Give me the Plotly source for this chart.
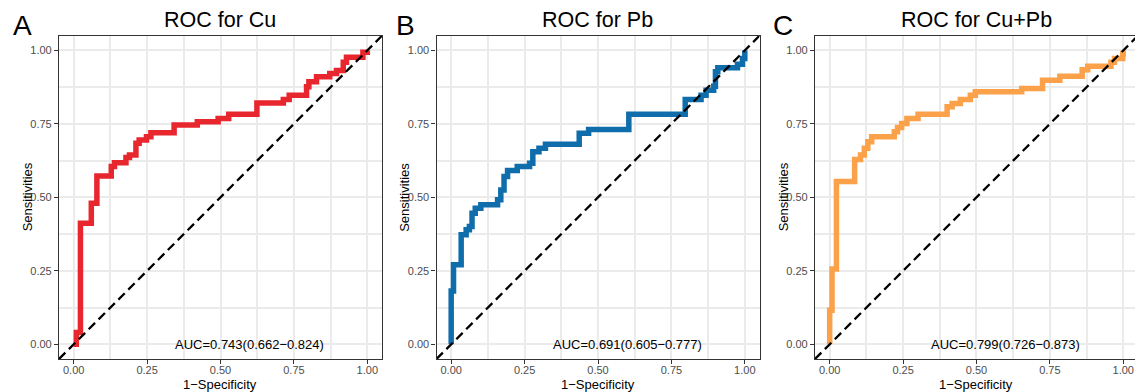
import plotly.graph_objects as go

# ---- data (step points of ROC curves: 1-specificity, sensitivity) ----
cu_fpr = [0, 0.009, 0.023, 0.060, 0.079, 0.128, 0.139, 0.178, 0.190, 0.212, 0.223, 0.248, 0.263,
          0.342, 0.421, 0.492, 0.528, 0.624, 0.714, 0.734, 0.793, 0.801, 0.827, 0.872, 0.895,
          0.918, 0.929, 0.985, 1.0]
cu_tpr = [0, 0.040, 0.412, 0.480, 0.573, 0.605, 0.618, 0.636, 0.644, 0.684, 0.695, 0.706, 0.720,
          0.746, 0.757, 0.768, 0.783, 0.821, 0.833, 0.847, 0.876, 0.893, 0.910, 0.921, 0.932,
          0.960, 0.977, 0.994, 1.0]

pb_fpr = [0, 0.0, 0.008, 0.034, 0.051, 0.062, 0.071, 0.082, 0.101, 0.158, 0.169, 0.180, 0.192,
          0.225, 0.267, 0.278, 0.299, 0.321, 0.436, 0.468, 0.605, 0.797, 0.851, 0.868, 0.894,
          0.900, 0.908, 0.975, 0.992, 1.0]
pb_tpr = [0, 0.181, 0.271, 0.373, 0.390, 0.401, 0.446, 0.463, 0.475, 0.492, 0.525, 0.571, 0.591,
          0.605, 0.616, 0.655, 0.667, 0.681, 0.718, 0.731, 0.783, 0.833, 0.847, 0.864, 0.878,
          0.927, 0.941, 0.953, 0.972, 1.0]

cupb_fpr = [0, 0.0, 0.008, 0.023, 0.085, 0.105, 0.118, 0.130, 0.143, 0.220, 0.231, 0.245, 0.263,
            0.301, 0.400, 0.417, 0.445, 0.479, 0.496, 0.654, 0.725, 0.784, 0.860, 0.879, 0.958,
            0.970, 0.998, 1.0]
cupb_tpr = [0, 0.116, 0.256, 0.554, 0.629, 0.644, 0.667, 0.689, 0.706, 0.723, 0.738, 0.751, 0.768,
            0.783, 0.808, 0.819, 0.833, 0.847, 0.859, 0.870, 0.898, 0.912, 0.934, 0.946, 0.960,
            0.972, 0.989, 1.0]

titles = ["ROC for Cu", "ROC for Pb", "ROC for Cu+Pb"]
letters = ["A", "B", "C"]
auc_texts = ["AUC=0.743(0.662\u22120.824)", "AUC=0.691(0.605\u22120.777)", "AUC=0.799(0.726\u22120.873)"]
colors = ["#E8262E", "#0F6DAB", "#FBA14A"]
tick_vals = [0, 0.25, 0.5, 0.75, 1.0]
tick_text = ["0.00", "0.25", "0.50", "0.75", "1.00"]
diag = [-0.05, 1.05]

series = [(cu_fpr, cu_tpr), (pb_fpr, pb_tpr), (cupb_fpr, cupb_tpr)]

W, H = 1135, 392
FONT = "Liberation Sans, Arial, sans-serif"

# pixel layout of the three panels
px_left = [59, 436.5, 815]
px_right = [382, 759.5, 1135]
x_ranges = [[-0.05, 1.05], [-0.05, 1.05], [-0.05, -0.05 + 320 / 293.6]]
top_px, bot_px = 35.7, 359
ydom = [(H - bot_px) / H, (H - top_px) / H]

fig = go.Figure()
annotations = []
for i in range(3):
    sfx = "" if i == 0 else str(i + 1)
    xa, ya = "x" + sfx, "y" + sfx
    fx, fy = series[i]
    fig.add_trace(go.Scatter(x=fx, y=fy, mode="lines", line=dict(color=colors[i], width=5.5, shape="hv"),
                             xaxis=xa, yaxis=ya, showlegend=False, hoverinfo="skip"))
    fig.add_trace(go.Scatter(x=diag, y=diag, mode="lines",
                             line=dict(color="black", width=2.3, dash="9px,5px"),
                             xaxis=xa, yaxis=ya, showlegend=False, hoverinfo="skip"))
    axis_common = dict(
        tickvals=tick_vals, ticktext=tick_text, ticks="outside", ticklen=4, tickwidth=1.1,
        tickcolor="#333333", tickfont=dict(size=11, color="#4D4D4D", family=FONT),
        showgrid=True, gridcolor="#EBEBEB", gridwidth=2, zeroline=False,
        showline=True, linecolor="#333333", linewidth=1.1,
        minor=dict(dtick=0.125, tick0=0, showgrid=True, gridcolor="#EBEBEB", gridwidth=1.6),
        fixedrange=True,
    )
    fig.layout["xaxis" + sfx] = dict(axis_common, domain=[px_left[i] / W, px_right[i] / W],
                                     range=x_ranges[i], anchor=ya, mirror=True,
                                     ticklabelstandoff=-3)
    fig.layout["yaxis" + sfx] = dict(axis_common, domain=ydom, range=[-0.05, 1.05], anchor=xa,
                                     mirror=(i < 2))
    x0px = px_left[i] + 0.05 * 293.6
    # title
    annotations.append(dict(text=titles[i], x=(x0px + 0.5 * 293.6) / W, y=(H - 20) / H,
                            xref="paper", yref="paper", xanchor="center", yanchor="middle",
                            showarrow=False, font=dict(size=21.5, color="black", family=FONT)))
    # panel letter
    letter_x = [22, 405, 783][i]
    annotations.append(dict(text=letters[i], x=letter_x / W, y=(H - 25) / H,
                            xref="paper", yref="paper", xanchor="center", yanchor="middle",
                            showarrow=False, font=dict(size=28, color="black", family=FONT)))
    # y title
    annotations.append(dict(text="Sensitivities", x=(px_left[i] - 32) / W, y=(H - (top_px + bot_px) / 2) / H,
                            xref="paper", yref="paper", xanchor="center", yanchor="middle", textangle=-90,
                            showarrow=False, font=dict(size=13, color="black", family=FONT)))
    # x title
    annotations.append(dict(text="1\u2212Specificity", x=(x0px + 0.5 * 293.6) / W, y=(H - 384) / H,
                            xref="paper", yref="paper", xanchor="center", yanchor="middle",
                            showarrow=False, font=dict(size=13, color="black", family=FONT)))
    # AUC text
    annotations.append(dict(text=auc_texts[i], x=0.6, y=0.0, xref=xa, yref=ya,
                            xanchor="center", yanchor="middle", showarrow=False,
                            font=dict(size=13, color="black", family=FONT)))

fig.update_layout(width=W, height=H, margin=dict(l=0, r=0, t=0, b=0),
                  paper_bgcolor="white", plot_bgcolor="white", annotations=annotations,
                  font=dict(family=FONT))
fig.write_html("out.html", config={"displayModeBar": False},
               post_script="document.body.style.margin='0';document.body.style.overflow='hidden';")
